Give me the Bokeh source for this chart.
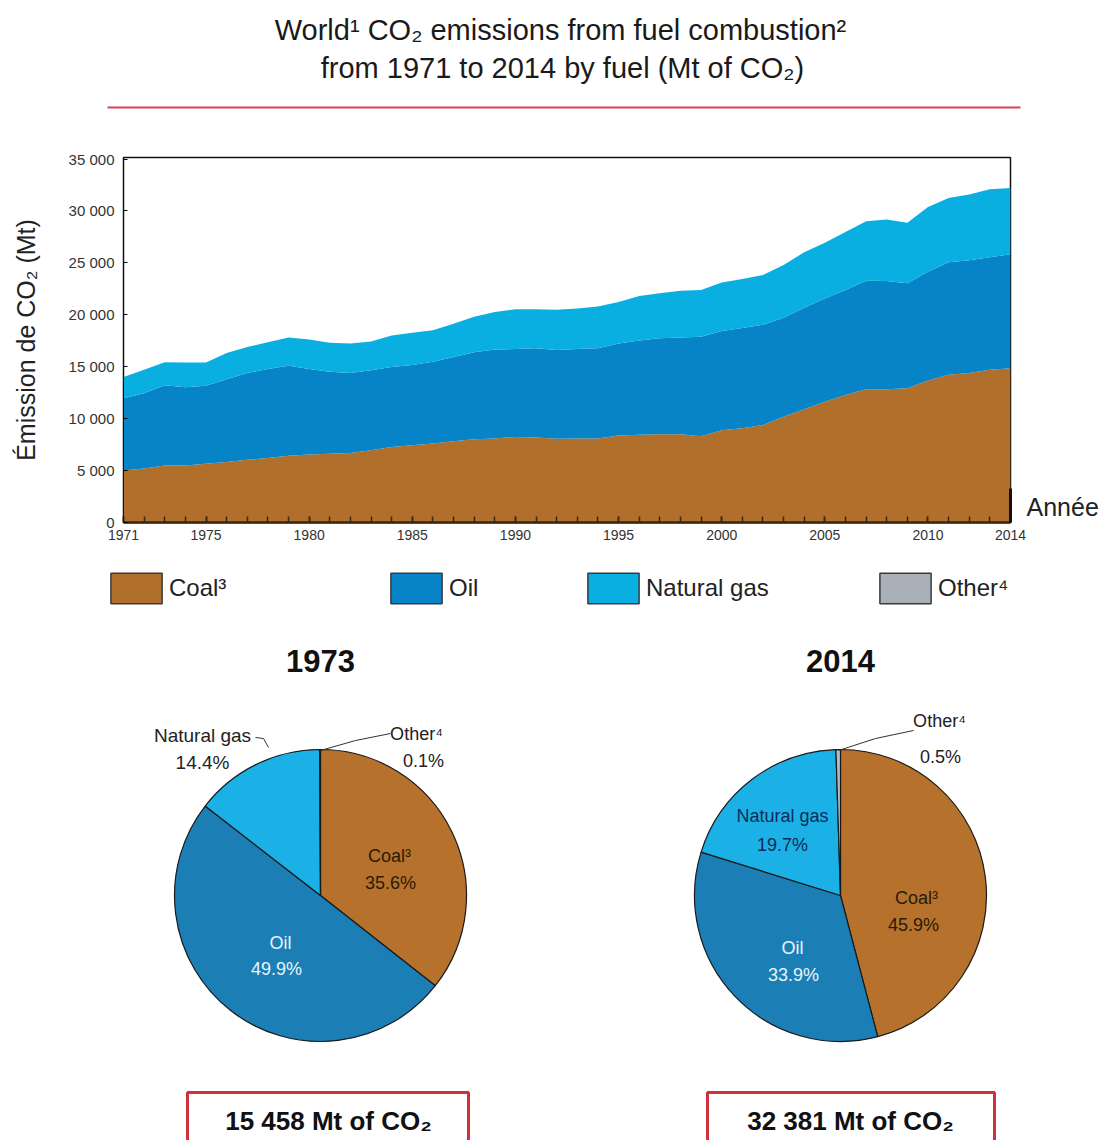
import math
import numpy as np
from bokeh.plotting import figure
from bokeh.models import (ColumnDataSource, Range1d, FixedTicker, Legend, LegendItem, LinearAxis)
from bokeh.layouts import column, row
from bokeh.embed import file_html
from bokeh.resources import INLINE
from bokeh.core.properties import value

# ---------------- data ----------------
years = list(range(1971, 2015))
coal = [5010, 5200, 5500, 5500, 5660, 5820, 6050, 6210, 6430, 6560,
        6630, 6690, 6950, 7270, 7440, 7600, 7820, 8020, 8080, 8240,
        8180, 8070, 8080, 8080, 8370, 8440, 8500, 8500, 8310, 8890,
        9080, 9380, 10180, 10900, 11640, 12290, 12840, 12840, 12930, 13680,
        14230, 14390, 14710, 14860]
oil = [6950, 7250, 7710, 7530, 7500, 7980, 8340, 8570, 8670, 8220,
       7890, 7700, 7700, 7700, 7720, 7890, 8120, 8370, 8570, 8470,
       8600, 8550, 8630, 8700, 8860, 9080, 9250, 9310, 9570, 9540,
       9640, 9660, 9540, 9790, 9920, 10110, 10440, 10410, 10120, 10470,
       10830, 10860, 10830, 10980]
gas = [2040, 2250, 2230, 2390, 2260, 2530, 2520, 2580, 2710, 2840,
       2780, 2840, 2770, 3040, 3110, 3030, 3200, 3430, 3620, 3820,
       3750, 3880, 3890, 4010, 4010, 4300, 4330, 4500, 4520, 4690,
       4720, 4790, 5080, 5340, 5370, 5570, 5720, 5940, 5820, 6240,
       6200, 6340, 6560, 6380]

fuels = ["Coal³", "Oil", "Natural gas", "Other⁴"]
share_1973 = [35.6, 49.9, 14.4, 0.1]
share_2014 = [45.9, 33.9, 19.7, 0.5]
pie_years = ["1973", "2014"]
pie_totals = ["15 458 Mt of CO₂", "32 381 Mt of CO₂"]

xtick_values = [1971, 1975, 1980, 1985, 1990, 1995, 2000, 2005, 2010, 2014]
ytick_values = [0, 5000, 10000, 15000, 20000, 25000, 30000, 35000]
ytick_labels = ["0", "5 000", "10 000", "15 000", "20 000", "25 000", "30 000", "35 000"]

# ---------------- style ----------------
FONT = "Liberation Sans"
AREA_COLORS = ["#B0702B", "#0783C8", "#0AAFE2", "#A9B0B8"]
PIE_COLORS = ["#B6722C", "#1B7FB6", "#1CB1E6", "#B4BBC3"]
W = 1105

# ---------------- title strip ----------------
top = figure(width=W, height=140, x_range=Range1d(0, W), y_range=Range1d(0, 140),
             x_axis_location=None, y_axis_location=None, min_border=0,
             output_backend="svg", toolbar_location=None)
top.grid.visible = False
top.outline_line_color = None
top.text(x=[560, 562], y=[111, 73],
         text=["World¹ CO₂ emissions from fuel combustion²", "from 1971 to 2014 by fuel (Mt of CO₂)"],
         text_align="center", text_baseline="middle", text_font=value(FONT),
         text_font_size="29px", text_color="#1a1a1a")
top.line(x=[107, 1020], y=[33, 33], line_color="#D9434E", line_width=2)

# ---------------- area chart ----------------
src = ColumnDataSource(dict(year=years, coal=coal, oil=oil, gas=gas))
p = figure(width=W, height=420, x_range=Range1d(1971, 2014), y_range=Range1d(0, 35150),
           min_border_left=123, min_border_right=W - 1010, min_border_top=17, min_border_bottom=38,
           output_backend="svg", toolbar_location=None)
p.varea_stack(["coal", "oil", "gas"], x="year", color=AREA_COLORS[:3], source=src)
p.grid.visible = False
p.outline_line_color = "#111111"
p.outline_line_width = 1.5

xa = p.xaxis[0]
xa.ticker = FixedTicker(ticks=xtick_values, minor_ticks=years)
xa.major_label_text_font = FONT
xa.major_label_text_font_size = "14px"
xa.major_label_text_color = "#333333"
xa.major_label_standoff = 7
xa.axis_line_width = 2.5
xa.axis_line_color = "#3b2410"
xa.major_tick_in = 6
xa.major_tick_out = 0
xa.minor_tick_in = 6
xa.minor_tick_out = 0
xa.major_tick_line_color = "#3b2410"
xa.minor_tick_line_color = "#3b2410"
xa.major_tick_line_width = 1.5
xa.minor_tick_line_width = 1.5

ya = p.yaxis[0]
ya.ticker = FixedTicker(ticks=ytick_values)
ya.major_label_overrides = {v: l for v, l in zip(ytick_values, ytick_labels)}
ya.major_label_text_font = FONT
ya.major_label_text_font_size = "15px"
ya.major_label_text_color = "#333333"
ya.major_label_standoff = 9
ya.major_tick_in = 4
ya.major_tick_out = 0
ya.minor_tick_line_color = None
ya.axis_line_color = "#111111"
ya.axis_label = "Émission de CO₂ (Mt)"
ya.axis_label_text_font = FONT
ya.axis_label_text_font_size = "25px"
ya.axis_label_text_font_style = "normal"
ya.axis_label_text_color = "#222222"
ya.axis_label_standoff = 26

# "Année" marker on the right side, near the bottom of the value axis
ra = LinearAxis(ticker=FixedTicker(ticks=[1450]), major_label_overrides={1450: "Année"},
                bounds=(0, 3300), axis_line_color="#111111", axis_line_width=3,
                major_tick_line_color=None, minor_tick_line_color=None,
                major_tick_in=0, major_tick_out=0, minor_tick_in=0, minor_tick_out=0,
                major_label_standoff=16, major_label_text_font=FONT,
                major_label_text_font_size="25px", major_label_text_color="#222222")
p.add_layout(ra, "right")

# ---------------- legend + pies ----------------
PH = 580  # page y 560 .. 1140
pf = figure(width=W, height=PH, x_range=Range1d(0, W), y_range=Range1d(0, PH),
            x_axis_location=None, y_axis_location=None, min_border=0,
            output_backend="svg", toolbar_location=None)
pf.grid.visible = False
pf.outline_line_color = None

legend_x = [104, 384, 581, 873]
for name, col, lx in zip(fuels, AREA_COLORS, legend_x):
    proxy_src = ColumnDataSource(dict(x=np.array([np.nan]), y=np.array([np.nan])))
    proxy = pf.rect(x="x", y="y", width=1, height=1, fill_color=col,
                    line_color="#3a3a3a", line_width=1.5, source=proxy_src)
    lg = Legend(items=[LegendItem(label=name, renderers=[proxy])], location=(lx, 533),
                padding=0, margin=0, spacing=0, border_line_color=None,
                background_fill_alpha=0, glyph_width=64, glyph_height=38,
                label_standoff=1, label_text_font=FONT, label_text_font_size="24px",
                label_text_color="#222222", label_text_baseline="middle")
    pf.add_layout(lg, "center")

CY = 245
R = 146
centers = [320, 840]
box_lr = [(187, 468), (707, 994)]
box_text_x = [328, 850]
for cx, shares, yr, tot, (bl, br), tx in zip(centers, [share_1973, share_2014], pie_years,
                                              pie_totals, box_lr, box_text_x):
    starts, ends = [], []
    c = 0.0
    for s in shares:
        starts.append(math.pi / 2 - 2 * math.pi * c / 100)
        c += s
        ends.append(math.pi / 2 - 2 * math.pi * c / 100)
    ps = ColumnDataSource(dict(start=starts, end=ends, color=PIE_COLORS, fuel=fuels, share=shares))
    pf.wedge(x=cx, y=CY, radius=R, start_angle="start", end_angle="end", direction="clock",
             fill_color="color", line_color="#1a1a1a", line_width=1.2, source=ps)
    pf.text(x=[cx], y=[480], text=[yr], text_align="center", text_baseline="middle",
            text_font=value(FONT), text_font_size="31px", text_font_style="bold",
            text_color="#111111")
    pf.quad(left=[bl], right=[br], top=[48], bottom=[-10],
            fill_color="white", line_color="#D22F3C", line_width=3)
    pf.text(x=[tx], y=[20], text=[tot], text_align="center",
            text_baseline="middle", text_font=value(FONT), text_font_size="26px",
            text_font_style="bold", text_color="#111111")


def pct(v):
    return f"{v:.1f}%"


def lab(x, y, t, color, size="18px"):
    pf.text(x=[x], y=[y], text=[t], text_align="center", text_baseline="middle",
            text_font=value(FONT), text_font_size=size, text_color=color)


DARK = "#2a1a08"
LIGHT = "#e8f3fb"
GREY = "#222222"
# 1973
lab(389, 285, fuels[0], DARK); lab(390, 258, pct(share_1973[0]), DARK)
lab(280, 198, fuels[1], LIGHT); lab(276, 172, pct(share_1973[1]), LIGHT)
lab(202, 405, fuels[2], GREY, "19px"); lab(202, 378, pct(share_1973[2]), GREY, "19px")
lab(416, 407, fuels[3], GREY); lab(423, 380, pct(share_1973[3]), GREY)
pf.line(x=[255, 263, 268], y=[403, 402, 393], line_color="#333333", line_width=1)
pf.line(x=[320, 355, 390], y=[390, 400, 407], line_color="#333333", line_width=1)
# 2014
lab(916, 243, fuels[0], DARK); lab(913, 216, pct(share_2014[0]), DARK)
lab(792, 193, fuels[1], LIGHT); lab(793, 166, pct(share_2014[1]), LIGHT)
lab(782, 325, fuels[2], "#0e2c55"); lab(782, 296, pct(share_2014[2]), "#0e2c55")
lab(939, 420, fuels[3], GREY); lab(940, 384, pct(share_2014[3]), GREY)
pf.line(x=[838, 875, 913], y=[390, 402, 410], line_color="#333333", line_width=1)

layout = column(row(top), p, row(pf), spacing=0)
open("out.html", "w").write(file_html(layout, INLINE))
